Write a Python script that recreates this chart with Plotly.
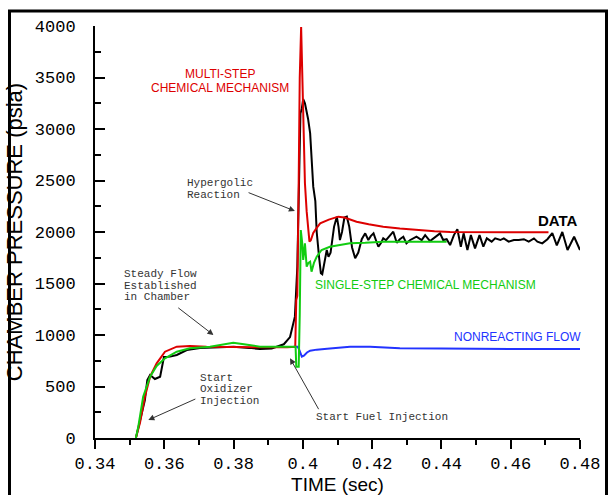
import plotly.graph_objects as go

# ---------------- data ----------------
t_data = [0.3518, 0.3530, 0.3544, 0.3551, 0.3559, 0.3573, 0.3588, 0.3599, 0.3617, 0.3636,
          0.3665, 0.3703, 0.3750, 0.3800, 0.3845, 0.3876, 0.3910, 0.3925, 0.3945, 0.3963,
          0.3977, 0.3984, 0.3988, 0.3993, 0.3997, 0.4001, 0.4006, 0.4015, 0.4021, 0.4027,
          0.4030, 0.4036, 0.4040, 0.4047, 0.4052, 0.4056, 0.4062, 0.4069, 0.4074, 0.4080,
          0.4090, 0.4098, 0.4103, 0.4107, 0.4113, 0.4120, 0.4127, 0.4134, 0.4142, 0.4151,
          0.4160, 0.4170, 0.4180, 0.4189, 0.4196, 0.4204, 0.4211, 0.4218, 0.4225, 0.4232,
          0.4240, 0.4248, 0.4254, 0.4261, 0.4271, 0.4280, 0.4290, 0.4299, 0.4309, 0.4319,
          0.4328, 0.4343, 0.4353, 0.4367, 0.4382, 0.4396, 0.4405, 0.4415, 0.4425, 0.4436,
          0.4446, 0.4456, 0.4464, 0.4475, 0.4485, 0.4497, 0.4510, 0.4521, 0.4531, 0.4545,
          0.4555, 0.4570, 0.4580, 0.4594, 0.4609, 0.4623, 0.4638, 0.4652, 0.4667, 0.4677,
          0.4691, 0.4706, 0.4720, 0.4733, 0.4749, 0.4764, 0.4783, 0.4800]
p_data = [0, 175, 369, 563, 612, 573, 595, 786, 790, 806,
          854, 874, 882, 885, 875, 864, 870, 886, 910, 980,
          1178, 1660, 2400, 3150, 3200, 3290, 3250, 3100, 2960, 2650,
          2440, 2300, 2000, 1750, 1600, 1590, 1700, 1825, 1760, 1800,
          2050, 2149, 2050, 1922, 2000, 2140, 2149, 2050, 1850, 1745,
          1800, 1930, 1987, 1922, 1960, 1987, 1920, 1857, 1890, 1939,
          1920, 1950, 1980, 2003, 1896, 1930, 1954, 1890, 1920, 1938,
          1954, 1922, 1970, 1912, 1954, 1987, 1922, 1930, 1873, 1970,
          2026, 1857, 1987, 1825, 1970, 1841, 1970, 1857, 1938, 1906,
          1938, 1922, 1938, 1906, 1922, 1922, 1930, 1906, 1938, 1906,
          1890, 1930, 1990, 1870, 2000, 1825, 1954, 1825]

t_multi = [0.3518, 0.3530, 0.3544, 0.3559, 0.3578, 0.3602, 0.3636, 0.3674, 0.3722, 0.3770,
           0.3800, 0.3850, 0.3900, 0.3955, 0.3978, 0.3981, 0.3984, 0.3988, 0.3991, 0.3995,
           0.3998, 0.4000, 0.4003, 0.4006, 0.4011, 0.4016, 0.4019, 0.4023, 0.4030, 0.4040,
           0.4050, 0.4075, 0.4102, 0.4120, 0.4155, 0.4190, 0.4232, 0.4280, 0.4328, 0.4380,
           0.4425, 0.4500, 0.4600, 0.4709]
p_multi = [0, 150, 401, 595, 725, 838, 887, 893, 887, 885,
           880, 875, 880, 882, 885, 1340, 1380, 2500, 3500, 3990,
           3600, 3120, 2800, 2473, 2200, 1987, 1906, 1920, 1990, 2040,
           2084, 2120, 2149, 2140, 2100, 2075, 2052, 2035, 2019, 2008,
           2000, 1997, 1997, 1997]

t_single = [0.3518, 0.3525, 0.3539, 0.3559, 0.3578, 0.3602, 0.3636, 0.3674, 0.3732, 0.3770,
            0.3799, 0.3830, 0.3876, 0.3920, 0.3979, 0.3981, 0.3988, 0.3991, 0.3994, 0.3998,
            0.4001, 0.4006, 0.4011, 0.4016, 0.4021, 0.4025, 0.4032, 0.4040, 0.4054, 0.4078,
            0.4100, 0.4136, 0.4180, 0.4232, 0.4300, 0.4360, 0.4415]
p_single = [0, 110, 401, 595, 699, 774, 838, 871, 887, 905,
            925, 910, 887, 887, 887, 692, 692, 1200, 2019, 1900,
            1728, 1890, 1663, 1700, 1712, 1615, 1700, 1760, 1825, 1857,
            1870, 1890, 1895, 1906, 1906, 1906, 1906]

t_nonreact = [0.3973, 0.3985, 0.3990, 0.3997, 0.4003, 0.4012, 0.4021, 0.4040, 0.4070, 0.4098,
              0.4136, 0.4194, 0.4280, 0.4400, 0.4521, 0.4650, 0.4800]
p_nonreact = [887, 887, 854, 790, 800, 830, 848, 858, 866, 871,
              885, 887, 871, 868, 864, 864, 864]

x_ticks = [0.34, 0.36, 0.38, 0.40, 0.42, 0.44, 0.46, 0.48]
y_ticks = [0, 500, 1000, 1500, 2000, 2500, 3000, 3500, 4000]

RED, GREEN, BLUE, BLACK = "#dd0000", "#11cc11", "#2233ff", "#000000"
NOTE = "#333333"

fig = go.Figure()
fig.add_trace(go.Scatter(x=t_nonreact, y=p_nonreact, mode="lines", line=dict(color=BLUE, width=2)))
fig.add_trace(go.Scatter(x=t_data, y=p_data, mode="lines", line=dict(color=BLACK, width=2)))
fig.add_trace(go.Scatter(x=t_multi, y=p_multi, mode="lines", line=dict(color=RED, width=2)))
fig.add_trace(go.Scatter(x=t_single, y=p_single, mode="lines", line=dict(color=GREEN, width=2)))

ann = []
def label(x, y, text, color, size, anchor="left", bold=False, family="Liberation Sans"):
    ann.append(dict(x=x, y=y, xref="x", yref="y", text=f"<b>{text}</b>" if bold else text,
                    showarrow=False, xanchor=anchor, yanchor="middle",
                    font=dict(family=family, size=size, color=color)))

def arrow(x_tail, y_tail, x_head, y_head):
    ann.append(dict(x=x_head, y=y_head, ax=x_tail, ay=y_tail, xref="x", yref="y",
                    axref="x", ayref="y", text="", showarrow=True, arrowhead=2,
                    arrowsize=1.2, arrowwidth=1, arrowcolor=NOTE, standoff=0))

label(0.3761, 3535, "MULTI-STEP", RED, 12, "center")
label(0.3761, 3397, "CHEMICAL MECHANISM", RED, 12, "center")
label(0.4800, 2107, "DATA", BLACK, 15, "right", bold=True)
label(0.4030, 1485, "SINGLE-STEP CHEMICAL MECHANISM", GREEN, 12)
label(0.4430, 983, "NONREACTING FLOW", BLUE, 12)

MONO = "Liberation Mono"
label(0.3660, 2476, "Hypergolic", NOTE, 11, family=MONO)
label(0.3660, 2364, "Reaction", NOTE, 11, family=MONO)
label(0.3477, 1592, "Steady Flow", NOTE, 11, family=MONO)
label(0.3477, 1479, "Established", NOTE, 11, family=MONO)
label(0.3477, 1369, "in Chamber", NOTE, 11, family=MONO)
label(0.3697, 583, "Start", NOTE, 11, family=MONO)
label(0.3697, 471, "Oxidizer", NOTE, 11, family=MONO)
label(0.3697, 362, "Injection", NOTE, 11, family=MONO)
label(0.4031, 204, "Start Fuel Injection", NOTE, 11, family=MONO)

arrow(0.3839, 2388, 0.3977, 2204)
arrow(0.3636, 1275, 0.3742, 1000)
arrow(0.3694, 385, 0.3554, 175)
arrow(0.4048, 265, 0.3963, 774)

# outer frame of the original figure (pixel positions as fractions of the 485x412 plot area)
fx0, fx1 = (9.5 - 95) / 485, (606.5 - 95) / 485
fy0, fy1 = (438 - 520) / 412, (438 - 11) / 412
frame = [dict(type="rect", xref="paper", yref="paper", x0=fx0, y0=fy0, x1=fx1, y1=fy1,
              line=dict(color="black", width=3), fillcolor="rgba(255,255,255,0)", layer="above")]

fig.update_layout(
    width=608, height=495,
    margin=dict(l=95, r=28, t=26, b=57, autoexpand=False),
    paper_bgcolor="white", plot_bgcolor="white",
    showlegend=False,
    annotations=ann,
    shapes=frame,
)
fig.update_xaxes(range=[0.34, 0.48], tickvals=x_ticks, ticktext=[f"{v:g}" for v in x_ticks],
                 automargin=False,
                 showline=True, linecolor="black", linewidth=2,
                 ticks="outside", ticklen=9, tickwidth=2, tickcolor="black",
                 minor=dict(ticks="outside", ticklen=5, tickwidth=1.5, tickcolor="black", dtick=0.01, tick0=0.34),
                 showgrid=False, zeroline=False,
                 tickfont=dict(family="Liberation Mono", size=17, color="black"),
                 title=dict(text="TIME (sec)", font=dict(family="Liberation Sans", size=19, color="black"), standoff=2))
fig.update_yaxes(range=[0, 4000], tickvals=y_ticks, automargin=False,
                 showline=True, linecolor="black", linewidth=2,
                 ticks="inside", ticklen=10, tickwidth=2, tickcolor="black",
                 minor=dict(ticks="inside", ticklen=6, tickwidth=1.5, tickcolor="black", dtick=250, tick0=0),
                 showgrid=False, zeroline=False, ticklabelstandoff=14,
                 tickfont=dict(family="Liberation Mono", size=17, color="black"),
                 title=dict(text="CHAMBER PRESSURE (psia)", font=dict(family="Liberation Sans", size=22, color="black"), standoff=6))

# remove the browser's default page margin so the figure sits at the window origin
fig.write_html("out.html", config={"displayModeBar": False},
               post_script="document.body.style.margin='0';document.body.style.overflow='hidden';")
